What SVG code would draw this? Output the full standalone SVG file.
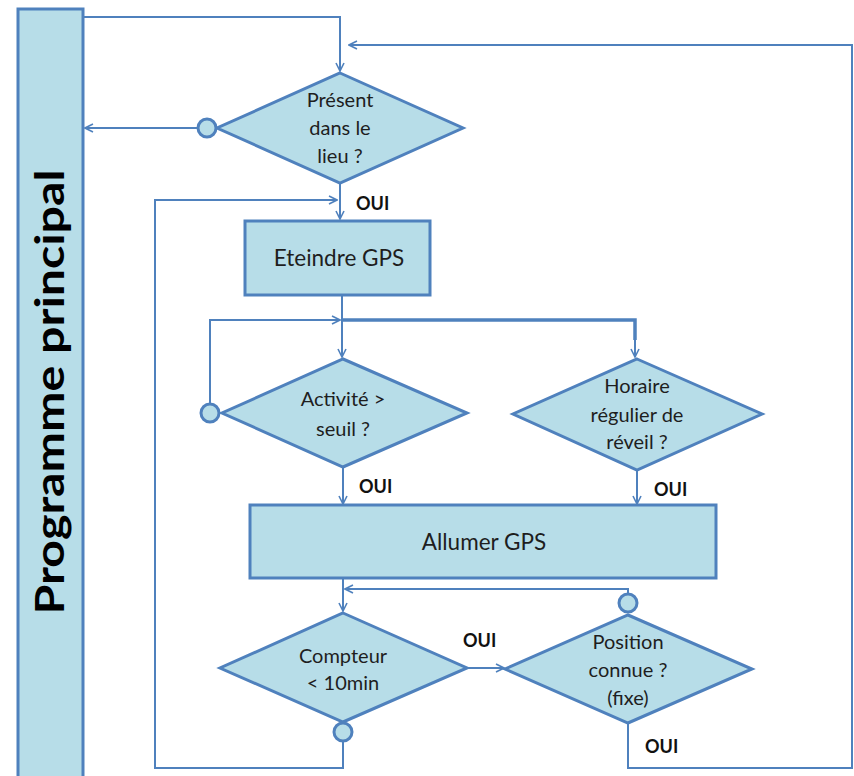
<svg xmlns="http://www.w3.org/2000/svg" width="854" height="776" viewBox="0 0 854 776">
  <style>
    .shape { fill: #b7dde8; stroke: #4f81bd; stroke-width: 3; }
    .wire { fill: none; stroke: #4f81bd; stroke-width: 2; }
    .wire-thick { fill: none; stroke: #4f81bd; stroke-width: 3.5; }
    .dot { fill: #b7dde8; stroke: #4f81bd; stroke-width: 3; }
    .label { font-family: Lato, "Liberation Sans", sans-serif; font-size: 20px; fill: #1e1e1e; text-anchor: middle; }
    .box-label { font-family: Lato, "Liberation Sans", sans-serif; font-size: 22.5px; fill: #1e1e1e; text-anchor: middle; }
    .oui { font-family: Lato, "Liberation Sans", sans-serif; font-size: 18px; font-weight: bold; fill: #111; }
    .title { font-family: Lato, "Liberation Sans", sans-serif; font-size: 40px; font-weight: bold; fill: #000; text-anchor: middle; }
  </style>
  <defs>
    <marker id="arrow" viewBox="0 0 10 10" refX="9" refY="5" markerWidth="10" markerHeight="10" markerUnits="userSpaceOnUse" orient="auto">
      <path d="M1,1 L9,5 L1,9" fill="none" stroke="#4f81bd" stroke-width="1.6"/>
    </marker>
  </defs>

  <!-- Main program bar -->
  <g id="programme-principal">
    <rect class="shape" x="18" y="9" width="65" height="770"/>
    <text class="title" transform="translate(64,392) rotate(-90)" textLength="445" lengthAdjust="spacingAndGlyphs">Programme principal</text>
  </g>

  <!-- Connectors -->
  <g id="connectors">
    <!-- bar to first decision -->
    <path class="wire" d="M83,17 H340 V71" marker-end="url(#arrow)"/>
    <!-- return loop from "Position connue" -->
    <path class="wire" d="M628,723 V768 H852 V45 H349" marker-end="url(#arrow)"/>
    <!-- "Présent" no branch back to bar -->
    <path class="wire" d="M198,128 H85" marker-end="url(#arrow)"/>
    <!-- "Présent" yes to Eteindre -->
    <path class="wire" d="M340,184 V219" marker-end="url(#arrow)"/>
    <!-- compteur timeout loop -->
    <path class="wire" d="M343,742 V768 H155 V200 H337" marker-end="url(#arrow)"/>
    <!-- Eteindre to split -->
    <path class="wire" d="M342,296 V357" marker-end="url(#arrow)"/>
    <path class="wire-thick" d="M342,320 H635 V340"/>
    <path class="wire" d="M635,336 V357" marker-end="url(#arrow)"/>
    <!-- Activité no loop -->
    <path class="wire" d="M210,404 V320 H340" marker-end="url(#arrow)"/>
    <!-- Activité yes -->
    <path class="wire" d="M343,467 V504" marker-end="url(#arrow)"/>
    <!-- Horaire yes -->
    <path class="wire" d="M637,471 V504" marker-end="url(#arrow)"/>
    <!-- Allumer to Compteur -->
    <path class="wire" d="M343,579 V611" marker-end="url(#arrow)"/>
    <!-- Position no back to Compteur -->
    <path class="wire" d="M628,593 V589 H345" marker-end="url(#arrow)"/>
    <!-- Compteur yes to Position -->
    <path class="wire" d="M467,668 H504" marker-end="url(#arrow)"/>
  </g>

  <!-- Decision: Présent dans le lieu -->
  <g id="present">
    <polygon class="shape" points="340,73 463,128 340,183 217,128"/>
    <circle class="dot" cx="207" cy="128" r="9"/>
    <text class="label" x="340" y="107">Présent</text>
    <text class="label" x="340" y="135">dans le</text>
    <text class="label" x="340" y="163">lieu ?</text>
    <text class="oui" x="356" y="210">OUI</text>
  </g>

  <!-- Process: Eteindre GPS -->
  <g id="eteindre">
    <rect class="shape" x="245" y="221" width="185" height="74"/>
    <text class="box-label" x="339" y="266">Eteindre GPS</text>
  </g>

  <!-- Decision: Activité > seuil -->
  <g id="activite">
    <polygon class="shape" points="343,359 467,413 343,467 222,413"/>
    <circle class="dot" cx="210" cy="413" r="9"/>
    <text class="label" x="343" y="406">Activité &gt;</text>
    <text class="label" x="343" y="436">seuil ?</text>
    <text class="oui" x="359" y="493">OUI</text>
  </g>

  <!-- Decision: Horaire régulier de réveil -->
  <g id="horaire">
    <polygon class="shape" points="637,359 762,414 637,470 513,414"/>
    <text class="label" x="637" y="393">Horaire</text>
    <text class="label" x="637" y="422">régulier de</text>
    <text class="label" x="637" y="449">réveil ?</text>
    <text class="oui" x="654" y="496">OUI</text>
  </g>

  <!-- Process: Allumer GPS -->
  <g id="allumer">
    <rect class="shape" x="250" y="505" width="466" height="73"/>
    <text class="box-label" x="484" y="550">Allumer GPS</text>
  </g>

  <!-- Decision: Compteur < 10min -->
  <g id="compteur">
    <polygon class="shape" points="343,613 467,668 343,722 220,668"/>
    <circle class="dot" cx="343" cy="732" r="9"/>
    <text class="label" x="343" y="663">Compteur</text>
    <text class="label" x="343" y="690">&lt; 10min</text>
    <text class="oui" x="463" y="647">OUI</text>
  </g>

  <!-- Decision: Position connue (fixe) -->
  <g id="position">
    <polygon class="shape" points="628,615 752,669 628,723 505,669"/>
    <circle class="dot" cx="628" cy="603" r="9"/>
    <text class="label" x="628" y="649">Position</text>
    <text class="label" x="628" y="677">connue ?</text>
    <text class="label" x="628" y="705">(fixe)</text>
    <text class="oui" x="645" y="753">OUI</text>
  </g>
</svg>
